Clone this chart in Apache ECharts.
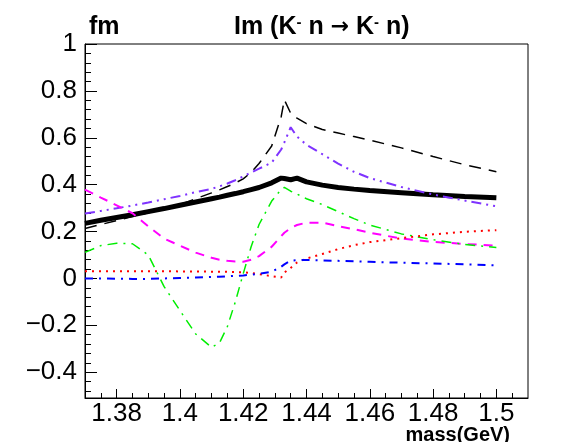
<!DOCTYPE html>
<html>
<head>
<meta charset="utf-8">
<script src="https://cdn.jsdelivr.net/npm/echarts@6/dist/echarts.min.js"></script>
<style>
html, body { margin: 0; padding: 0; background: #fff; }
#main { width: 567px; height: 442px; }
</style>
</head>
<body>
<div id="main"></div>
<script>
// mass grid (GeV)
var masses = [1.370, 1.375, 1.380, 1.385, 1.390, 1.395, 1.400, 1.405, 1.410, 1.4125, 1.415, 1.4175, 1.420, 1.4225, 1.425, 1.429, 1.432, 1.433, 1.435, 1.437, 1.440, 1.445, 1.450, 1.455, 1.460, 1.470, 1.480, 1.490, 1.500];

// Im amplitude (fm)
var totalIm   = [0.235, 0.248, 0.260, 0.272, 0.285, 0.298, 0.312, 0.326, 0.340, 0.347, 0.355, 0.362, 0.370, 0.379, 0.388, 0.408, 0.428, 0.426, 0.421, 0.428, 0.412, 0.398, 0.388, 0.381, 0.375, 0.366, 0.357, 0.350, 0.344];
var dashedIm  = [0.213, 0.230, 0.247, 0.264, 0.280, 0.297, 0.315, 0.340, 0.365, 0.378, 0.392, 0.407, 0.425, 0.452, 0.490, 0.565, 0.690, 0.762, 0.705, 0.684, 0.660, 0.635, 0.620, 0.605, 0.590, 0.557, 0.520, 0.485, 0.455];
var violetIm  = [0.277, 0.288, 0.299, 0.311, 0.324, 0.338, 0.352, 0.368, 0.382, 0.393, 0.405, 0.419, 0.435, 0.452, 0.468, 0.494, 0.550, 0.580, 0.645, 0.605, 0.570, 0.530, 0.490, 0.455, 0.428, 0.390, 0.358, 0.332, 0.308];
var magentaIm = [0.379, 0.345, 0.312, 0.278, 0.222, 0.170, 0.140, 0.110, 0.088, 0.080, 0.075, 0.072, 0.071, 0.080, 0.095, 0.135, 0.180, 0.195, 0.215, 0.228, 0.238, 0.238, 0.223, 0.210, 0.195, 0.170, 0.156, 0.147, 0.140];
var greenIm   = [0.111, 0.140, 0.150, 0.148, 0.100, -0.035, -0.137, -0.237, -0.294, -0.275, -0.205, -0.100, 0.020, 0.135, 0.230, 0.330, 0.380, 0.388, 0.372, 0.360, 0.340, 0.315, 0.285, 0.255, 0.228, 0.190, 0.165, 0.145, 0.132];
var redIm     = [0.031, 0.031, 0.031, 0.031, 0.031, 0.031, 0.030, 0.030, 0.029, 0.029, 0.028, 0.027, 0.026, 0.023, 0.018, 0.010, 0.004, 0.025, 0.045, 0.068, 0.085, 0.104, 0.125, 0.142, 0.155, 0.172, 0.188, 0.199, 0.206];
var blueIm    = [0.000, 0.000, -0.001, -0.002, -0.002, 0.000, 0.002, 0.004, 0.006, 0.007, 0.009, 0.011, 0.013, 0.016, 0.020, 0.028, 0.050, 0.060, 0.076, 0.078, 0.079, 0.077, 0.075, 0.073, 0.071, 0.067, 0.064, 0.060, 0.056];

// axis ticks
var xMajorTicks = [1.38, 1.40, 1.42, 1.44, 1.46, 1.48, 1.50];
var xMinorTicks = [1.375, 1.385, 1.39, 1.395, 1.405, 1.41, 1.415, 1.425, 1.43, 1.435, 1.445, 1.45, 1.455, 1.465, 1.47, 1.475, 1.485, 1.49, 1.495, 1.505];
var yMajorTicks = [-0.4, -0.2, 0, 0.2, 0.4, 0.6, 0.8, 1];
var yMinorTicks = [-0.48, -0.44, -0.36, -0.32, -0.28, -0.24, -0.16, -0.12, -0.08, -0.04, 0.04, 0.08, 0.12, 0.16, 0.24, 0.28, 0.32, 0.36, 0.44, 0.48, 0.52, 0.56, 0.64, 0.68, 0.72, 0.76, 0.84, 0.88, 0.92, 0.96];

var myChart = echarts.init(document.getElementById('main'), null, { renderer: 'canvas' });

var font = 'Liberation Sans, Arial, Helvetica, sans-serif';

function pairs(vals) {
	return masses.map(function(m, i) { return [m, vals[i]]; });
}

function line(name, vals, color, width, type) {
	return {
		name: name,
		type: 'line',
		xAxisIndex: 0,
		yAxisIndex: 0,
		showSymbol: false,
		symbol: 'none',
		smooth: false,
		lineStyle: { color: color, width: width, type: type },
		data: pairs(vals)
	};
}

function fmtY(v) {
	var s = String(Math.round(v * 10) / 10);
	return s.replace('-', '\u2212');
}

var xRange = { min: 1.37, max: 1.51 };
var yRange = { min: -0.51, max: 1.0 };

var option = {
	backgroundColor: '#fff',
	animation: false,
	textStyle: { fontFamily: font },
	title: [{
		text: 'fm',
		left: 84,
		top: 10,
		textStyle: { fontFamily: font, fontSize: 25, fontWeight: 'bold', color: '#000' }
	}, {
		text: 'Im (K{sup|-} n {arr|\u2192} K{sup|-} n)',
		left: 229,
		top: 10,
		textStyle: {
			fontFamily: font, fontSize: 25, fontWeight: 'bold', color: '#000',
			rich: {
				sup: { fontFamily: font, fontSize: 15, fontWeight: 'bold', color: '#000', verticalAlign: 'top', padding: [0, 0, 10, 0] },
				arr: { fontFamily: 'DejaVu Sans', fontSize: 22, color: '#000' }
			}
		}
	}, {
		text: 'mass(GeV)',
		right: 52,
		top: 420,
		textStyle: { fontFamily: font, fontSize: 20, fontWeight: 'bold', color: '#000' }
	}],
	grid: {
		left: 85, right: 39, top: 44, bottom: 44,
		show: true, borderColor: '#000', borderWidth: 1, backgroundColor: 'transparent'
	},
	xAxis: [{
		type: 'value', min: xRange.min, max: xRange.max, position: 'bottom',
		axisLine: { show: true, onZero: false, lineStyle: { color: '#000', width: 1 } },
		axisTick: { show: true, inside: true, length: 9, customValues: xMajorTicks, lineStyle: { color: '#000', width: 1 } },
		axisLabel: { customValues: xMajorTicks, margin: 3, fontSize: 26, color: '#000', fontFamily: font,
			formatter: function(v) { return String(Math.round(v * 100) / 100); } },
		splitLine: { show: false }
	}, {
		type: 'value', min: xRange.min, max: xRange.max, position: 'bottom',
		axisLine: { show: false, onZero: false },
		axisTick: { show: true, inside: true, length: 5, customValues: xMinorTicks, lineStyle: { color: '#000', width: 1 } },
		axisLabel: { show: false },
		splitLine: { show: false }
	}],
	yAxis: [{
		type: 'value', min: yRange.min, max: yRange.max, position: 'left',
		axisLine: { show: true, onZero: false, lineStyle: { color: '#000', width: 1 } },
		axisTick: { show: true, inside: true, length: 12, customValues: yMajorTicks, lineStyle: { color: '#000', width: 1 } },
		axisLabel: { customValues: yMajorTicks, margin: 8, fontSize: 26, color: '#000', fontFamily: font, formatter: fmtY },
		splitLine: { show: false }
	}, {
		type: 'value', min: yRange.min, max: yRange.max, position: 'left',
		axisLine: { show: false, onZero: false },
		axisTick: { show: true, inside: true, length: 6, customValues: yMinorTicks, lineStyle: { color: '#000', width: 1 } },
		axisLabel: { show: false },
		splitLine: { show: false }
	}],
	series: [
		line('total', totalIm, '#000000', 5, 'solid'),
		line('dashed', dashedIm, '#000000', 1.5, [12, 8]),
		line('violet', violetIm, '#7f33ff', 2, [10, 5, 2, 5, 2, 5]),
		line('magenta', magentaIm, '#ff00ff', 2, [9, 7]),
		line('green', greenIm, '#00ee00', 1.5, [10, 6, 2, 6]),
		line('red', redIm, '#ff0000', 2, [2, 5]),
		line('blue', blueIm, '#0000ff', 2, [8, 6, 2, 6])
	]
};

myChart.setOption(option);
</script>
</body>
</html>
